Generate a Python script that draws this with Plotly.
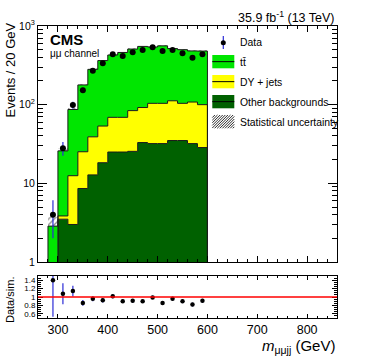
import plotly.graph_objects as go

# ---------------- data ----------------
bin_edges = [280, 300, 320, 340, 360, 380, 400, 420, 440, 460, 480, 500, 520, 540, 560, 580, 600]
bin_centers = [290, 310, 330, 350, 370, 390, 410, 430, 450, 470, 490, 510, 530, 550, 570, 590]

other_bkg = [0.4, 3.5, 3.0, 8.6, 12.8, 18.3, 25, 25, 25.5, 33, 32, 32, 35, 35, 32, 28.5]
dy_jets = [0.2, 0.35, 9.5, 16.6, 26.2, 35.2, 44, 44, 58.5, 59, 72, 72, 77, 69, 76, 71.5]
ttbar = [2.26, 22.0, 74.3, 153, 242, 310, 359, 392, 425, 458, 437, 455, 404, 396, 374, 380]
stat_unc = [0.85, 2.5, 5, 6, 8, 9, 10, 10, 11, 11, 11, 11, 11, 11, 11, 11]

data_vals = [4.0, 28, 99, 153, 270, 335, 437, 415, 463, 495, 536, 481, 495, 450, 395, 437]
data_err_up = [2.1, 5.5, 10, 12.4, 16.4, 18.3, 20.9, 20.4, 21.5, 22.2, 23.2, 21.9, 22.2, 21.2, 19.9, 20.9]
data_err_dn = [2.0, 5.5, 10, 12.4, 16.4, 18.3, 20.9, 20.4, 21.5, 22.2, 23.2, 21.9, 22.2, 21.2, 19.9, 20.9]

ratio_vals = [1.40, 1.08, 1.14, 0.86, 0.96, 0.92, 1.02, 0.90, 0.91, 0.90, 0.99, 0.86, 0.96, 0.90, 0.82, 0.91]
ratio_err = [0.87, 0.25, 0.13, 0.07, 0.06, 0.05, 0.05, 0.045, 0.045, 0.04, 0.04, 0.04, 0.045, 0.045, 0.045, 0.045]

main_ytickvals = [1, 10, 100, 1000]
main_yticktext = ["1", "10", "10<sup>2</sup>", "10<sup>3</sup>"]
ratio_ytickvals = [0.6, 0.8, 1.0, 1.2, 1.4]
ratio_yticktext = ["0.6", "0.8", "1", "1.2", "1.4"]
x_tickvals = [300, 400, 500, 600, 700, 800]

# ---------------- styling ----------------
FONT = "Liberation Sans, Arial, Helvetica, sans-serif"
C_TT = "#00e600"
C_DY = "#ffff00"
C_OT = "#006100"
C_ERR = "#2b2bd6"
C_HATCH = "#2a2a2a"

W, H = 374, 359
ML, MR, MT, MB = 38, 37, 26, 41
PW, PH = W - ML - MR, H - MT - MB


def px(x):
    return (x - ML) / PW


def py(y):
    return (H - MB - y) / PH


FLOOR = 0.01

cum_other = other_bkg
cum_dy = [o + d for o, d in zip(other_bkg, dy_jets)]
cum_tot = [o + d + t for o, d, t in zip(other_bkg, dy_jets, ttbar)]


def step_xy(vals):
    xs = [bin_edges[0]] + bin_edges[:-1] + [bin_edges[-1], bin_edges[-1]]
    ys = [FLOOR] + list(vals) + [vals[-1], FLOOR]
    return xs, ys


fig = go.Figure()

# baseline
fig.add_trace(go.Scatter(x=[bin_edges[0], bin_edges[-1]], y=[FLOOR, FLOOR], mode="lines",
                         line=dict(width=0, color="rgba(0,0,0,0)"), showlegend=False,
                         hoverinfo="skip", xaxis="x", yaxis="y"))
for vals, col in [(cum_other, C_OT), (cum_dy, C_DY), (cum_tot, C_TT)]:
    xs, ys = step_xy(vals)
    fig.add_trace(go.Scatter(x=xs, y=ys, mode="lines", line=dict(shape="hv", color="#1a1a1a", width=1),
                             fill="tonexty", fillcolor=col, showlegend=False, xaxis="x", yaxis="y"))

# stat uncertainty hatch
fig.add_trace(go.Bar(x=bin_centers, y=[2 * e for e in stat_unc],
                     base=[t - e for t, e in zip(cum_tot, stat_unc)], width=20,
                     marker=dict(color="rgba(0,0,0,0)", line=dict(width=0),
                                 pattern=dict(shape="/", fgcolor=C_HATCH, bgcolor="rgba(0,0,0,0)",
                                              size=4, solidity=0.35)),
                     showlegend=False, xaxis="x", yaxis="y"))

# data
fig.add_trace(go.Scatter(x=bin_centers, y=data_vals, mode="markers",
                         marker=dict(color="black", size=6),
                         error_y=dict(type="data", array=data_err_up, arrayminus=data_err_dn,
                                      color=C_ERR, thickness=1.2, width=0),
                         showlegend=False, xaxis="x", yaxis="y"))

# ratio
fig.add_trace(go.Scatter(x=bin_centers, y=ratio_vals, mode="markers",
                         marker=dict(color="black", size=4.5),
                         error_y=dict(type="data", array=ratio_err, color=C_ERR, thickness=1.2, width=0),
                         showlegend=False, xaxis="x2", yaxis="y2", cliponaxis=True))

main_bottom = py(262)
ratio_top = py(276)

axis_common = dict(showline=True, linecolor="black", linewidth=1, mirror="allticks",
                   ticks="inside", tickcolor="black", showgrid=False, zeroline=False)

fig.update_layout(
    width=W, height=H, autosize=False,
    margin=dict(l=ML, r=MR, t=MT, b=MB, pad=0, autoexpand=False),
    paper_bgcolor="white", plot_bgcolor="white",
    font=dict(family=FONT, color="black"),
    barmode="overlay", bargap=0, showlegend=False,
    xaxis=dict(domain=[0, 1], anchor="y", range=[260, 860], tickvals=x_tickvals,
               showticklabels=False, ticklen=6, tickwidth=1,
               minor=dict(dtick=20, tick0=0, ticklen=3, ticks="inside", tickcolor="black"),
               **axis_common),
    yaxis=dict(domain=[main_bottom, 1], anchor="x", type="log", range=[0, 3],
               tickvals=main_ytickvals, ticktext=main_yticktext, ticklen=9, tickwidth=1,
               tickfont=dict(size=10.5),
               minor=dict(tickvals=[m * 10 ** k for k in range(3) for m in range(2, 10)],
                          ticklen=5, ticks="inside", tickcolor="black"),
               **axis_common),
    xaxis2=dict(domain=[0, 1], anchor="y2", range=[260, 860], tickvals=x_tickvals,
                ticklen=4, tickwidth=1, tickfont=dict(size=12.5),
                minor=dict(dtick=20, tick0=0, ticklen=2, ticks="inside", tickcolor="black"),
                **axis_common),
    yaxis2=dict(domain=[0, ratio_top], anchor="x2", range=[0.5, 1.5],
                tickvals=ratio_ytickvals, ticktext=ratio_yticktext, ticklen=5, tickwidth=1,
                tickfont=dict(size=8),
                minor=dict(dtick=0.05, tick0=0, ticklen=3, ticks="inside", tickcolor="black"),
                **axis_common),
)

# red line at 1
fig.add_shape(type="line", xref="x2", yref="y2", x0=260, x1=860, y0=1, y1=1,
              line=dict(color="#ff0000", width=1.5))

shapes = []
anns = []

# legend
LX0, LX1 = 212.3, 234.3
# Data
shapes.append(dict(type="line", xref="paper", yref="paper", x0=px(223.3), x1=px(223.3),
                   y0=py(36), y1=py(49), line=dict(color=C_ERR, width=1.2)))
shapes.append(dict(type="circle", xref="paper", yref="paper", x0=px(220.8), x1=px(225.8),
                   y0=py(40.2), y1=py(45.2), fillcolor="black", line=dict(color="black", width=0)))
legend_rows = [(C_TT, 55), (C_DY, 75), (C_OT, 95)]
for col, ytop in legend_rows:
    shapes.append(dict(type="rect", xref="paper", yref="paper", x0=px(LX0), x1=px(LX1),
                       y0=py(ytop + 13.3), y1=py(ytop), fillcolor=col, line=dict(width=0)))
    shapes.append(dict(type="line", xref="paper", yref="paper", x0=px(LX0), x1=px(LX1),
                       y0=py(ytop + 6.65), y1=py(ytop + 6.65), line=dict(color="black", width=1)))
# hatched box
hy0, hy1 = 115, 128.3
hh = hy1 - hy0
c = LX0 - hh
while c < LX1:
    xa, ya = c, hy1
    xb, yb = c + hh, hy0
    if xa < LX0:
        ya = hy1 - (LX0 - xa)
        xa = LX0
    if xb > LX1:
        yb = hy0 + (xb - LX1)
        xb = LX1
    shapes.append(dict(type="line", xref="paper", yref="paper", x0=px(xa), x1=px(xb),
                       y0=py(ya), y1=py(yb), line=dict(color=C_HATCH, width=1)))
    c += 2.6

legend_texts = [("Data", 42.7), ("t\u0074\u0304", 62), ("DY + jets", 82),
                ("Other backgrounds", 102), ("Statistical uncertainty", 122)]
for txt, yc in legend_texts:
    anns.append(dict(xref="paper", yref="paper", x=px(238), y=py(yc), text=txt, showarrow=False,
                     xanchor="left", yanchor="middle", font=dict(size=10.4)))

# CMS labels
anns.append(dict(xref="paper", yref="paper", x=px(48), y=py(40), text="<b>CMS</b>", showarrow=False,
                 xanchor="left", yanchor="middle", font=dict(size=15)))
anns.append(dict(xref="paper", yref="paper", x=px(48), y=py(53), text="\u03bc\u03bc channel",
                 showarrow=False, xanchor="left", yanchor="middle", font=dict(size=10)))
anns.append(dict(xref="paper", yref="paper", x=px(337), y=py(17), text="35.9 fb<sup>-1</sup> (13 TeV)",
                 showarrow=False, xanchor="right", yanchor="middle", font=dict(size=12.5)))
# axis titles
anns.append(dict(xref="paper", yref="paper", x=px(10), y=py(21), text="Events / 20 GeV",
                 showarrow=False, textangle=-90, xanchor="center", yanchor="top", font=dict(size=13)))
anns.append(dict(xref="paper", yref="paper", x=px(10), y=py(300), text="Data/sim.",
                 showarrow=False, textangle=-90, xanchor="center", yanchor="middle", font=dict(size=11)))
anns.append(dict(xref="paper", yref="paper", x=px(337), y=py(346),
                 text="<i>m</i><sub>\u03bc\u03bcjj</sub> (GeV)",
                 showarrow=False, xanchor="right", yanchor="middle", font=dict(size=15)))

for s in shapes:
    fig.add_shape(**s)
fig.update_layout(annotations=anns)

fig.write_html("out.html", config={"displayModeBar": False},
               post_script="document.body.style.margin='0';document.body.style.overflow='hidden';")
